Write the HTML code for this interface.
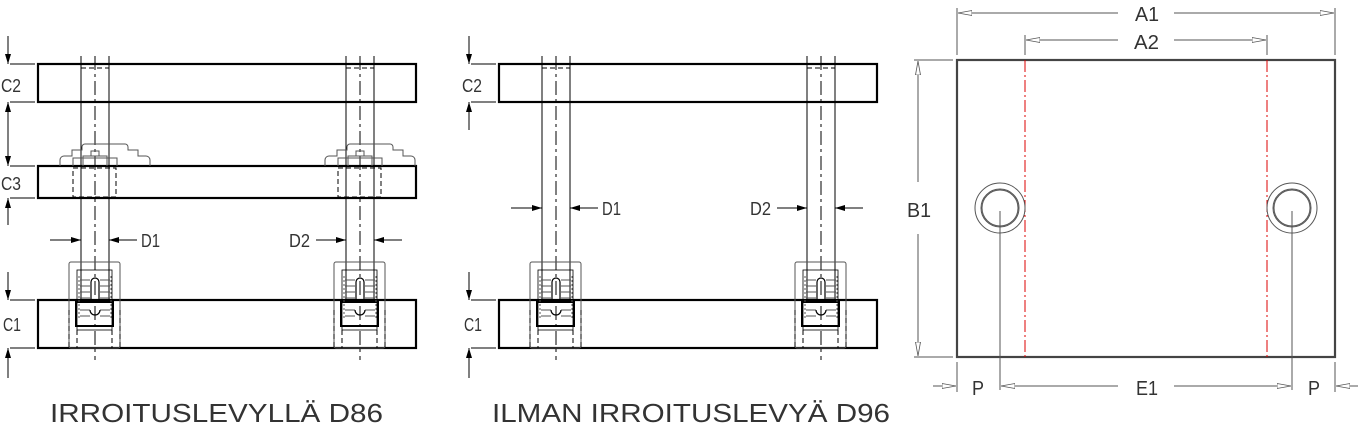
<!DOCTYPE html>
<html><head><meta charset="utf-8"><style>
html,body{margin:0;padding:0;background:#fff;width:1367px;height:437px;overflow:hidden}
svg{display:block}
text{font-family:"Liberation Sans",sans-serif;fill:#333}
</style></head><body>
<svg width="1367" height="437" viewBox="0 0 1367 437" xmlns="http://www.w3.org/2000/svg">
<defs>
<marker id="ah" viewBox="0 0 10 6" refX="10" refY="3" markerWidth="10" markerHeight="6" orient="auto" markerUnits="userSpaceOnUse"><path d="M0,0 L10,3 L0,6z" fill="#000"/></marker>
<marker id="oh" viewBox="0 0 14 6" refX="14" refY="3" markerWidth="14" markerHeight="6" orient="auto" markerUnits="userSpaceOnUse"><path d="M0,0.5 L14,3 L0,5.5z" fill="#fff" stroke="#555" stroke-width="0.8"/></marker>
<g id="bush" stroke="#000" fill="none" stroke-width="1">
 <rect x="-26" y="262" width="51" height="86" rx="2" stroke="#555"/>
 <rect x="-18" y="270" width="35" height="60" stroke-width="0.8"/>
 <path d="M-26,310 V348 M25,310 V348 M-18,330 V348 M17,330 V348" stroke-dasharray="5,3"/>
 <rect x="-19" y="302" width="37" height="24" stroke-width="2"/>
 <path d="M-15,280 h10 M-15,286 h10 M-15,292 h10 M-15,298 h10 M-15,310 h10 M-15,316 h10 M5,280 h10 M5,286 h10 M5,292 h10 M5,298 h10 M5,310 h10 M5,316 h10" stroke="#555"/>
 <path d="M-16,276 V320 M16,276 V320" stroke="#555" stroke-dasharray="2,2"/>
 <path d="M-4,300 V282 a4,4 0 0 1 8,0 V300 M-5,310 a5,5 0 0 0 10,0" stroke-width="1.2"/>
</g>
<g id="shaft" stroke="#000" fill="none" stroke-width="1">
 <line x1="-14" y1="56" x2="-14" y2="300"/><line x1="14" y1="56" x2="14" y2="300"/>
 <line x1="0" y1="56" x2="0" y2="360" stroke-dasharray="14,4,3,4"/>
 <path d="M-14,68 H14" stroke-dasharray="5,3"/>
 <use href="#bush"/>
</g>
<g id="cap" stroke="#555" fill="none" stroke-width="1">
  <path d="M-35,166 v-6 a4,4 0 0 1 4,-4 h8 v-6 h10 v-3 a3,3 0 0 1 3,-3 h40 a3,3 0 0 1 3,3 v3 h10 v6 h8 a4,4 0 0 1 4,4 v6"/>
  <path d="M-12,166 v-10 h24 v10 M-4,156 v-5 h8 v5 M-22,166 v-8 h44 v8"/>
  <rect x="-22" y="168" width="43" height="29" stroke="#000" stroke-dasharray="5,3"/>
</g>
</defs>

<!-- LEFT PANEL -->
<g stroke="#000" fill="none">
 <rect x="38" y="64" width="378" height="38" stroke-width="2.2"/>
 <rect x="38" y="166" width="378" height="32" stroke-width="2.2"/>
 <rect x="38" y="300" width="378" height="48" stroke-width="2.2"/>
</g>
<use href="#shaft" transform="translate(95,0)"/>
<use href="#shaft" transform="translate(360,0)"/>
<use href="#cap" transform="translate(95,0)"/>
<use href="#cap" transform="translate(360,0)"/>

<!-- left dims -->
<g stroke="#000" stroke-width="1" fill="none">
 <line x1="8" y1="36" x2="8" y2="64" marker-end="url(#ah)"/>
 <line x1="8" y1="140" x2="8" y2="102" marker-end="url(#ah)"/>
 <line x1="8" y1="120" x2="8" y2="166" marker-end="url(#ah)"/>
 <line x1="8" y1="225" x2="8" y2="198" marker-end="url(#ah)"/>
 <line x1="8" y1="272" x2="8" y2="300" marker-end="url(#ah)"/>
 <line x1="8" y1="378" x2="8" y2="348" marker-end="url(#ah)"/>
 <path d="M10,64 H35 M10,102 H35 M10,166 H35 M10,198 H35 M10,300 H35 M10,348 H35"/>
 <line x1="50" y1="240" x2="81" y2="240" marker-end="url(#ah)"/>
 <line x1="137" y1="240" x2="109" y2="240" marker-end="url(#ah)"/>
 <line x1="316" y1="240" x2="346" y2="240" marker-end="url(#ah)"/>
 <line x1="402" y1="240" x2="374" y2="240" marker-end="url(#ah)"/>
</g>
<g font-size="18">
 <text x="1" y="92" textLength="20" lengthAdjust="spacingAndGlyphs">C2</text>
 <text x="1" y="190" textLength="20" lengthAdjust="spacingAndGlyphs">C3</text>
 <text x="3" y="331" textLength="18" lengthAdjust="spacingAndGlyphs">C1</text>
 <text x="141" y="247" textLength="19" lengthAdjust="spacingAndGlyphs">D1</text>
 <text x="289" y="247" textLength="21" lengthAdjust="spacingAndGlyphs">D2</text>
</g>
<text x="50" y="422" font-size="26" textLength="333" lengthAdjust="spacingAndGlyphs">IRROITUSLEVYLLÄ D86</text>

<!-- MIDDLE PANEL -->
<g stroke="#000" fill="none">
 <rect x="499" y="64" width="378" height="38" stroke-width="2.2"/>
 <rect x="499" y="300" width="378" height="48" stroke-width="2.2"/>
</g>
<use href="#shaft" transform="translate(556,0)"/>
<use href="#shaft" transform="translate(821,0)"/>
<g stroke="#000" stroke-width="1" fill="none">
 <line x1="469" y1="36" x2="469" y2="64" marker-end="url(#ah)"/>
 <line x1="469" y1="130" x2="469" y2="102" marker-end="url(#ah)"/>
 <line x1="469" y1="272" x2="469" y2="300" marker-end="url(#ah)"/>
 <line x1="469" y1="378" x2="469" y2="348" marker-end="url(#ah)"/>
 <path d="M471,64 H496 M471,102 H496 M471,300 H496 M471,348 H496"/>
 <line x1="511" y1="208" x2="542" y2="208" marker-end="url(#ah)"/>
 <line x1="598" y1="208" x2="570" y2="208" marker-end="url(#ah)"/>
 <line x1="777" y1="208" x2="807" y2="208" marker-end="url(#ah)"/>
 <line x1="863" y1="208" x2="835" y2="208" marker-end="url(#ah)"/>
</g>
<g font-size="18">
 <text x="462" y="92" textLength="20" lengthAdjust="spacingAndGlyphs">C2</text>
 <text x="464" y="331" textLength="18" lengthAdjust="spacingAndGlyphs">C1</text>
 <text x="602" y="215" textLength="19" lengthAdjust="spacingAndGlyphs">D1</text>
 <text x="750" y="215" textLength="21" lengthAdjust="spacingAndGlyphs">D2</text>
</g>
<text x="492" y="422" font-size="26" textLength="398" lengthAdjust="spacingAndGlyphs">ILMAN IRROITUSLEVYÄ D96</text>

<!-- RIGHT PANEL -->
<g fill="none">
 <rect x="957" y="60" width="378" height="297" stroke="#444" stroke-width="2.2"/>
 <line x1="1025" y1="60" x2="1025" y2="357" stroke="#d00" stroke-dasharray="12,3,2,3"/>
 <line x1="1267" y1="60" x2="1267" y2="357" stroke="#d00" stroke-dasharray="12,3,2,3"/>
 <g stroke="#555" stroke-width="1">
  <circle cx="1000" cy="208" r="25"/><circle cx="1000" cy="208" r="19"/><circle cx="1000" cy="208" r="18"/>
  <circle cx="1292" cy="208" r="25"/><circle cx="1292" cy="208" r="19"/><circle cx="1292" cy="208" r="18"/>
  <line x1="1000" y1="211" x2="1000" y2="390"/><line x1="1292" y1="211" x2="1292" y2="390"/>
  <line x1="957" y1="8" x2="957" y2="55"/><line x1="1335" y1="8" x2="1335" y2="55"/>
  <line x1="1025" y1="35" x2="1025" y2="55"/><line x1="1267" y1="35" x2="1267" y2="55"/>
  <line x1="1118" y1="13" x2="958" y2="13" marker-end="url(#oh)"/>
  <line x1="1174" y1="13" x2="1334" y2="13" marker-end="url(#oh)"/>
  <line x1="1118" y1="40" x2="1026" y2="40" marker-end="url(#oh)"/>
  <line x1="1174" y1="40" x2="1266" y2="40" marker-end="url(#oh)"/>
  <line x1="914" y1="60" x2="953" y2="60"/><line x1="914" y1="357" x2="953" y2="357"/>
  <line x1="918" y1="182" x2="918" y2="61" marker-end="url(#oh)"/>
  <line x1="918" y1="234" x2="918" y2="356" marker-end="url(#oh)"/>
  <line x1="957" y1="362" x2="957" y2="392"/><line x1="1335" y1="362" x2="1335" y2="392"/>
  <line x1="933" y1="386" x2="956" y2="386" marker-end="url(#oh)"/>
  <line x1="1358" y1="386" x2="1336" y2="386" marker-end="url(#oh)"/>
  <line x1="1118" y1="386" x2="1001" y2="386" marker-end="url(#oh)"/>
  <line x1="1174" y1="386" x2="1291" y2="386" marker-end="url(#oh)"/>
 </g>
</g>
<g font-size="20" fill="#555">
 <text x="1135" y="21" textLength="24" lengthAdjust="spacingAndGlyphs">A1</text>
 <text x="1134" y="49" textLength="25" lengthAdjust="spacingAndGlyphs">A2</text>
 <text x="907" y="217" textLength="24" lengthAdjust="spacingAndGlyphs">B1</text>
 <text x="972" y="395" textLength="12" lengthAdjust="spacingAndGlyphs">P</text>
 <text x="1308" y="395" textLength="12" lengthAdjust="spacingAndGlyphs">P</text>
 <text x="1136" y="395" textLength="22" lengthAdjust="spacingAndGlyphs">E1</text>
</g>
</svg>
</body></html>
